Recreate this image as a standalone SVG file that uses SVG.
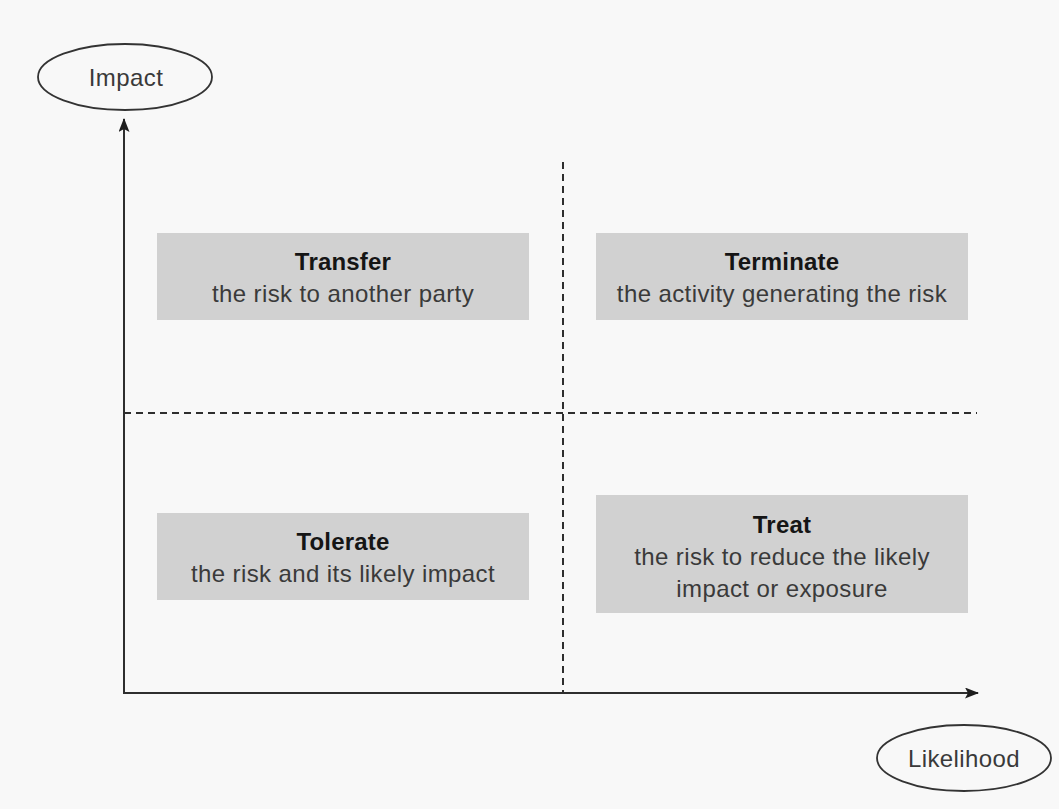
<svg xmlns="http://www.w3.org/2000/svg" width="1059" height="809" viewBox="0 0 1059 809">
  <style>
    .bg { fill: #f8f8f8; }
    .box { fill: #d1d1d1; }
    .axis { stroke: #2e2e2e; stroke-width: 2; fill: none; }
    .grid { stroke: #2e2e2e; stroke-width: 2; stroke-dasharray: 7 5; fill: none; }
    .oval { fill: none; stroke: #333333; stroke-width: 1.8; }
    text { font-family: "Liberation Sans", Arial, sans-serif; font-size: 24px; letter-spacing: 0.4px; text-anchor: middle; }
    .title { font-weight: bold; fill: #151515; letter-spacing: 0.2px; }
    .desc { fill: #3a3a3a; }
    .label { fill: #3a3a3a; }
  </style>
  <defs>
    <marker id="arrow" viewBox="0 0 14 11" refX="13" refY="5.5" markerWidth="14" markerHeight="11" markerUnits="userSpaceOnUse" orient="auto">
      <path d="M0,0 L14,5.5 L0,11 L3,5.5 Z" fill="#1e1e1e"/>
    </marker>
  </defs>

  <rect class="bg" x="0" y="0" width="1059" height="809"/>

  <!-- axes and quadrant dividers -->
  <g id="connectors">
    <line class="grid" x1="124" y1="413" x2="977" y2="413"/>
    <line class="grid" x1="563" y1="162" x2="563" y2="693"/>
    <line class="axis" x1="124" y1="694" x2="124" y2="119" marker-end="url(#arrow)"/>
    <line class="axis" x1="123" y1="693" x2="978" y2="693" marker-end="url(#arrow)"/>
  </g>

  <g id="impact">
    <ellipse class="oval" cx="125" cy="77" rx="87" ry="33"/>
    <text class="label" x="126" y="86">Impact</text>
  </g>

  <g id="likelihood">
    <ellipse class="oval" cx="964" cy="758" rx="87" ry="33"/>
    <text class="label" x="964" y="767">Likelihood</text>
  </g>

  <g id="transfer">
    <rect class="box" x="157" y="233" width="372" height="87"/>
    <text class="title" x="343" y="270">Transfer</text>
    <text class="desc" x="343" y="302">the risk to another party</text>
  </g>

  <g id="terminate">
    <rect class="box" x="596" y="233" width="372" height="87"/>
    <text class="title" x="782" y="270">Terminate</text>
    <text class="desc" x="782" y="302">the activity generating the risk</text>
  </g>

  <g id="tolerate">
    <rect class="box" x="157" y="513" width="372" height="87"/>
    <text class="title" x="343" y="550">Tolerate</text>
    <text class="desc" x="343" y="582">the risk and its likely impact</text>
  </g>

  <g id="treat">
    <rect class="box" x="596" y="495" width="372" height="118"/>
    <text class="title" x="782" y="533">Treat</text>
    <text class="desc" x="782" y="565">the risk to reduce the likely</text>
    <text class="desc" x="782" y="597">impact or exposure</text>
  </g>
</svg>
